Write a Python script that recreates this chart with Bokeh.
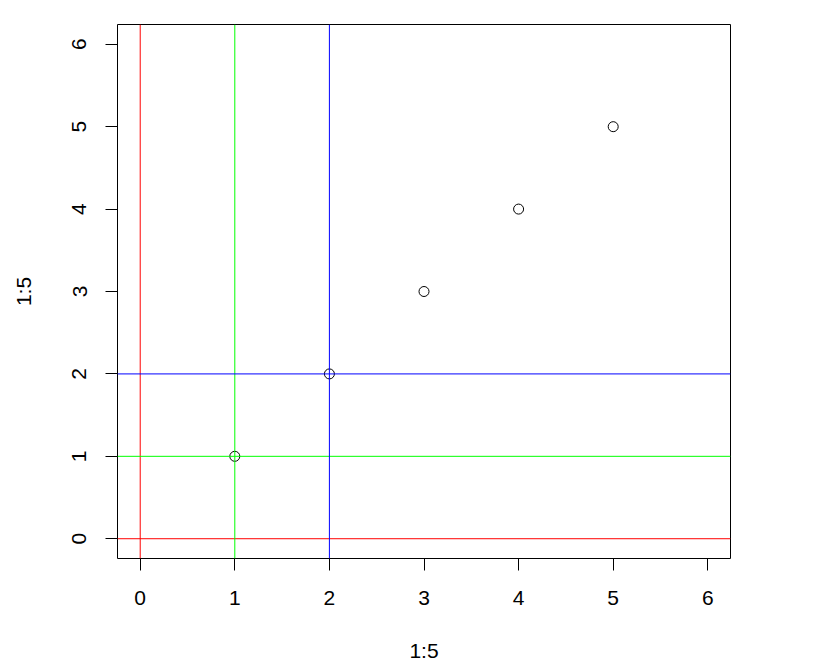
from bokeh.plotting import figure
from bokeh.models import Span, Range1d, FixedTicker
from bokeh.embed import file_html
from bokeh.resources import INLINE

# data
x_vals = [1, 2, 3, 4, 5]
y_vals = [1, 2, 3, 4, 5]
ref_values = [0, 1, 2]
ticks = [0, 1, 2, 3, 4, 5, 6]
x_label = "1:5"
y_label = "1:5"

ref_colors = ["#FF0000", "#00FF00", "#0000FF"]
FONT = "Liberation Sans"

p = figure(width=810, height=656, output_backend="svg", toolbar_location=None,
           x_range=Range1d(-0.24, 6.24), y_range=Range1d(-0.24, 6.24),
           min_border_left=117, min_border_top=24, min_border_right=80, min_border_bottom=98)
p.frame_width = 613
p.frame_height = 534

p.grid.visible = False
p.outline_line_color = "black"
p.outline_line_width = 1
p.background_fill_color = "white"
p.border_fill_color = "white"

for ax in (p.xaxis[0], p.yaxis[0]):
    ax.ticker = FixedTicker(ticks=ticks)
    ax.axis_line_color = None
    ax.major_tick_out = 12
    ax.major_tick_in = 0
    ax.major_tick_line_color = "black"
    ax.minor_tick_line_color = None
    ax.major_label_text_font = FONT
    ax.major_label_text_font_size = "21px"
    ax.major_label_text_color = "black"
    ax.axis_label_text_font = FONT
    ax.axis_label_text_font_size = "21px"
    ax.axis_label_text_font_style = "normal"
    ax.axis_label_text_color = "black"

p.xaxis[0].axis_label = x_label
p.yaxis[0].axis_label = y_label
p.xaxis[0].major_label_standoff = 20
p.yaxis[0].major_label_standoff = 19
p.yaxis[0].major_label_orientation = "vertical"
p.xaxis[0].axis_label_standoff = 31
p.yaxis[0].axis_label_standoff = 35

p.scatter(x_vals, y_vals, marker="circle", size=10, fill_color=None,
          line_color="black", line_width=1)

for v, c in zip(ref_values, ref_colors):
    p.add_layout(Span(location=v, dimension="width", line_color=c, line_width=1))
    p.add_layout(Span(location=v, dimension="height", line_color=c, line_width=1))

open("out.html", "w").write(file_html(p, INLINE))
